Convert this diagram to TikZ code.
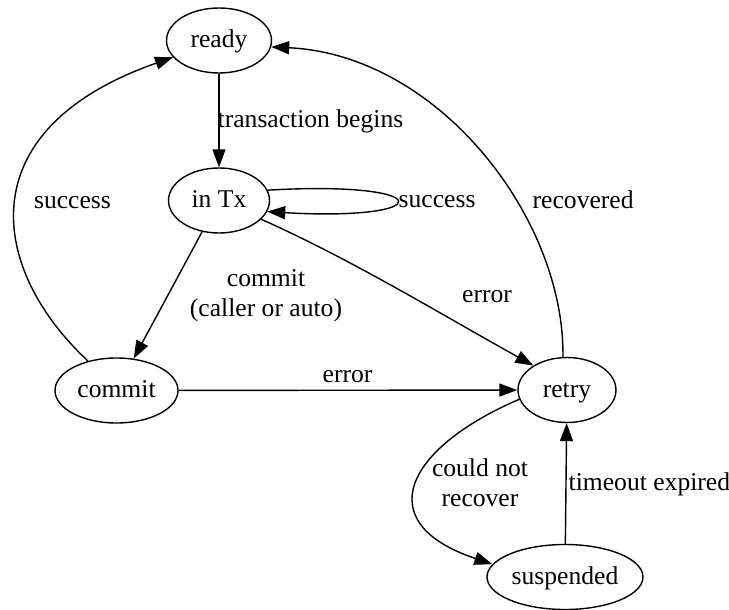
\documentclass[tikz,border=0pt]{standalone}
\usepackage{fontspec}
\setmainfont{Liberation Serif}
\usetikzlibrary{shapes.geometric}
\usetikzlibrary{arrows.meta}
\tikzset{state/.style={ellipse, draw, minimum height=65pt, inner sep=0pt,
  text height=18pt, text depth=4pt}}
\tikzset{lbl/.style={inner sep=0pt, anchor=base}}

\begin{document}
\begin{tikzpicture}[x=1pt, y=-1pt, line width=1.4pt,
  >={Triangle[length=18pt,width=13pt]}, font=\fontsize{25.6}{30}\selectfont]
  \useasboundingbox (0,0) rectangle (729,610);
  % states
  \node [state, minimum width=105pt] (ready) at (219,40.5) {ready};
  \node [state, minimum width=101pt] (intx) at (219,200.5) {in Tx};
  \node [state, minimum width=123pt] (commit) at (116.5,390.5) {commit};
  \node [state, minimum width=98pt] (retry) at (567,390) {retry};
  \node [state, minimum width=156pt] (suspended) at (565,577) {suspended};

  % transitions
  \draw [->] (ready) -- (intx);
  \draw [->] (intx.12) .. controls +(172,-10) and +(172,10) .. (intx.-13);
  \draw [->] (intx) -- (commit);
  \draw [->] (intx.-24) .. controls +(90,40) and +(-90,-50) .. (retry.144);
  \draw [->] (commit) -- (retry);
  \draw [->] (commit.134) .. controls +(-97,-90) and +(-208,73) .. (ready.200);
  \draw [->] (retry.97) .. controls +(2,-138) and +(168,8) .. (ready.-7);
  \draw [->] (retry.191) .. controls +(-112,48) and +(-125,-42) .. (suspended.170);
  \draw [->] (suspended) -- (retry);

  % labels
  \node [lbl, anchor=base west] (begins) at (217,128) {transaction begins};
  \node [lbl, anchor=base west] (loopok) at (398,207) {success};
  \node [lbl] (commitok) at (72.5,208) {success};
  \node [lbl, anchor=base west] (recovered) at (532,208) {recovered};
  \node [lbl, align=center] (docommit) at (266,316.7) {commit\\(caller or auto)};
  \node [lbl] (txerror) at (487,302) {error};
  \node [lbl] (commiterror) at (347.5,382) {error};
  \node [lbl, align=center] (notrecover) at (480,506.7) {could not\\recover};
  \node [lbl, anchor=base west] (timeout) at (568,490) {timeout expired};
\end{tikzpicture}
\end{document}
